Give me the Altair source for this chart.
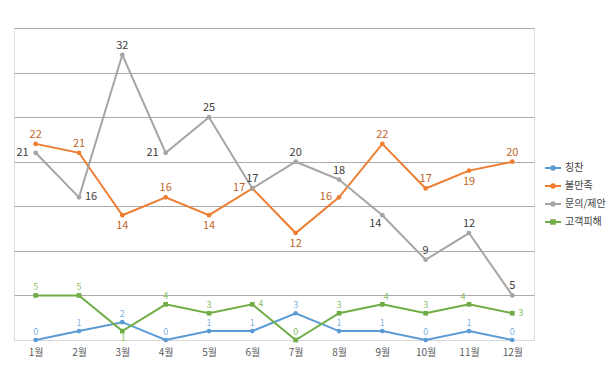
import altair as alt
import pandas as pd

months = ["1월", "2월", "3월", "4월", "5월", "6월", "7월", "8월", "9월", "10월", "11월", "12월"]
series_names = ["칭찬", "불만족", "문의/제안", "고객피해"]

praise = [0, 1, 2, 0, 1, 1, 3, 1, 1, 0, 1, 0]
complaint = [22, 21, 14, 16, 14, 17, 12, 16, 22, 17, 19, 20]
inquiry = [21, 16, 32, 21, 25, 17, 20, 18, 14, 9, 12, 5]
damage = [5, 5, 1, 4, 3, 4, 0, 3, 4, 3, 4, 3]

# label placement keywords (style, not data)
praise_pos = ["above_s"] * 12
complaint_pos = ["above", "above", "below", "above", "below", "left", "below", "left", "above", "above", "below", "above"]
inquiry_pos = ["left", "right", "above", "left", "above", "above", "above", "above", "belowleft", "above", "above", "above"]
damage_pos = ["above_s", "above_s", "below_s", "above_s", "above_s", "right", "above_s", "above_s", "aboveright", "above_s", "aboveleft", "right"]

line_colors = ["#5B9BD5", "#ED7D31", "#A5A5A5", "#70AD47"]
label_colors = {"칭찬": "#7FB2E5", "불만족": "#C0652A", "문의/제안": "#404040", "고객피해": "#8DC16A"}
label_sizes = {"칭찬": 9, "불만족": 11, "문의/제안": 11, "고객피해": 9}

rows = []
for name, vals, poss in zip(series_names, [praise, complaint, inquiry, damage],
                            [praise_pos, complaint_pos, inquiry_pos, damage_pos]):
    for m, v, p in zip(months, vals, poss):
        rows.append({"month": m, "series": name, "value": v, "pos": p,
                     "lc": label_colors[name], "fs": label_sizes[name]})
df = pd.DataFrame(rows)

FONT = "Noto Sans CJK KR"

x_enc = alt.X("month:N", sort=months, scale=alt.Scale(type="point", padding=0.5),
              axis=alt.Axis(title=None, labelAngle=0, ticks=False, domain=False, grid=False,
                            labelColor="#595959", labelFontSize=10, labelPadding=7, labelFont=FONT))
y_enc = alt.Y("value:Q", scale=alt.Scale(domain=[0, 35], nice=False),
              axis=alt.Axis(title=None, labels=False, ticks=False, domain=False, grid=True,
                            values=[0, 5, 10, 15, 20, 25, 30, 35],
                            gridColor={"condition": {"test": "datum.value === 0", "value": "#d9d9d9"},
                                       "value": "#ababab"},
                            gridWidth=1))

circle_path = "M-1,0H1M-0.22,0A0.22,0.22,0,1,1,0.22,0A0.22,0.22,0,1,1,-0.22,0Z"
square_path = "M-1,0H1M-0.22,-0.22H0.22V0.22H-0.22Z"

color_scale = alt.Scale(domain=series_names, range=line_colors)

base = alt.Chart(df)

lines = base.mark_line().encode(
    x=x_enc, y=y_enc,
    color=alt.Color("series:N", scale=color_scale, legend=None),
    strokeWidth=alt.StrokeWidth("series:N", scale=alt.Scale(domain=series_names, range=[2, 2, 2, 1.5]), legend=None),
    detail="series:N",
)

points = base.mark_point(filled=True, opacity=1).encode(
    x=x_enc, y=y_enc,
    color=alt.Color("series:N", scale=color_scale, legend=None),
    shape=alt.Shape("series:N", scale=alt.Scale(domain=series_names, range=["circle", "circle", "circle", "square"]), legend=None),
    size=alt.Size("series:N", scale=alt.Scale(domain=series_names, range=[22, 22, 22, 34]), legend=None),
)

leg = alt.Legend(title=None, orient="none", legendX=530, legendY=131,
                 symbolSize=256, symbolStrokeWidth=2, labelFontSize=10, labelColor="#404040",
                 labelFont=FONT, rowPadding=3, labelOffset=3)

legend_layer = base.transform_filter("false").mark_point(opacity=1, strokeWidth=2).encode(
    x=x_enc, y=y_enc,
    fill=alt.Fill("series:N", scale=color_scale, legend=leg),
    stroke=alt.Stroke("series:N", scale=color_scale, legend=leg),
    shape=alt.Shape("series:N", scale=alt.Scale(domain=series_names, range=[circle_path, circle_path, circle_path, square_path]), legend=leg),
)

offsets = {
    "above": dict(dx=0, dy=-9, align="center"),
    "above_s": dict(dx=0, dy=-8, align="center"),
    "below": dict(dx=0, dy=11, align="center"),
    "below_s": dict(dx=1, dy=7, align="center"),
    "left": dict(dx=-7, dy=0, align="right"),
    "right": dict(dx=6, dy=0, align="left"),
    "belowleft": dict(dx=-7, dy=9, align="center"),
    "aboveright": dict(dx=4, dy=-7, align="center"),
    "aboveleft": dict(dx=-6, dy=-7, align="center"),
}

texts = []
for key, o in offsets.items():
    t = base.transform_filter(alt.datum.pos == key).mark_text(
        dx=o["dx"], dy=o["dy"], align=o["align"], baseline="middle", font=FONT
    ).encode(
        x=x_enc, y=y_enc,
        text="value:Q",
        color=alt.Color("lc:N", scale=None),
        size=alt.Size("fs:Q", scale=None),
    )
    texts.append(t)

chart = alt.layer(lines, points, *texts, legend_layer).resolve_scale(
    shape="independent", size="independent", fill="independent", stroke="independent"
).properties(
    width=520, height=312,
    autosize=alt.AutoSizeParams(type="none"),
    padding={"left": 6, "top": 20, "right": 74, "bottom": 35},
).configure_view(stroke=None).configure(background="white")

chart.save("out.html", embed_options={"renderer": "svg", "actions": False})
